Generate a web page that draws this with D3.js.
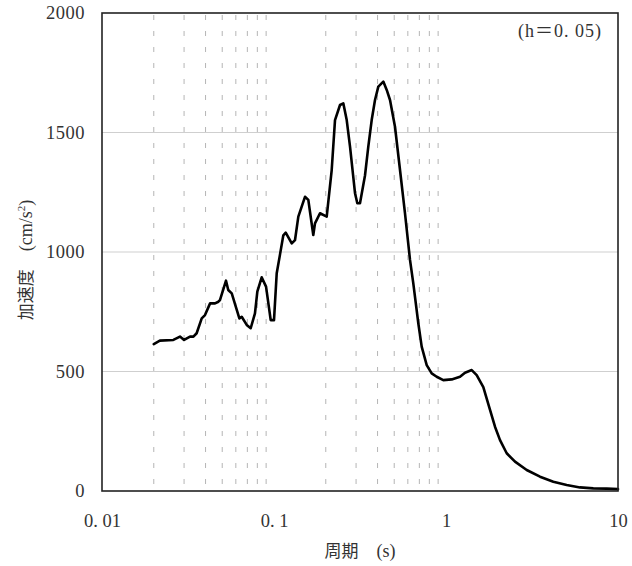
<!DOCTYPE html>
<html><head><meta charset="utf-8">
<script src="https://cdn.jsdelivr.net/npm/d3@7"></script>
<style>
body{margin:0;background:#fff}
text{fill:#333}
</style></head>
<body><svg id="c" width="632" height="566"></svg>
<script>
const periods = [0.020,0.0217,0.026,0.0284,0.030,0.0325,0.034,0.0355,0.038,0.0397,0.0425,0.0454,0.0475,0.0485,0.0526,0.0542,0.0568,0.0629,0.0649,0.0694,0.0732,0.0775,0.080,0.0848,0.0899,0.0957,0.100,0.1037,0.1084,0.1133,0.1170,0.1268,0.1325,0.1385,0.1514,0.1583,0.1692,0.1731,0.1851,0.2025,0.2165,0.2263,0.2420,0.2529,0.2647,0.2767,0.2958,0.3051,0.3162,0.3381,0.3534,0.3698,0.3866,0.4041,0.4321,0.4522,0.4726,0.5052,0.5403,0.5776,0.6176,0.6455,0.6902,0.7222,0.7724,0.8258,0.8829,0.9645,1.079,1.206,1.290,1.411,1.508,1.648,1.803,1.927,2.061,2.254,2.519,2.946,3.520,4.206,5.031,6.013,7.185,8.598,10];
const accel = [615,629,632,646,632,646,646,660,722,736,785,785,792,799,880,841,827,722,729,695,681,743,834,894,855,715,715,911,990,1070,1081,1036,1050,1148,1231,1218,1071,1120,1162,1148,1343,1552,1615,1622,1552,1441,1246,1204,1204,1320,1441,1552,1636,1692,1713,1678,1636,1524,1343,1162,967,869,702,604,527,492,478,464,467,478,495,506,485,435,339,269,213,158,123,88,60,39,25,15,11,10,8];
const yTicks = [0,500,1000,1500,2000];
const yGrid = [500,1000,1500];
const xTicks = [0.01,0.1,1,10];
const xTickLabels = ["0. 01","0. 1","1","10"];
const minorGrid = [0.02,0.03,0.04,0.05,0.06,0.07,0.08,0.09,0.2,0.3,0.4,0.5,0.6,0.7,0.8,0.9];
const dampingLabel = "(h＝0. 05)";
const xTitleCjk = "周期";
const xTitleUnit = "　(s)";
const yTitleCjk = "加速度";
const yTitleUnit = "　(cm/s";
const yTitleSup = "2";
const yTitleEnd = ")";

const L=102,R=618,T=13,B=491;
const svg = d3.select("#c");
const x = d3.scaleLog().domain([0.01,10]).range([L,R]);
const y = d3.scaleLinear().domain([0,2000]).range([B,T]);
const numFont = "'Liberation Serif','Noto Sans CJK JP',serif";
const cjkFont = "'Noto Sans CJK JP','Liberation Serif',sans-serif";

// vertical dashed grid
svg.append("g").selectAll("line").data(minorGrid).join("line")
  .attr("x1",d=>x(d)).attr("x2",d=>x(d)).attr("y1",T).attr("y2",B)
  .attr("stroke","#b5b5b5").attr("stroke-width",1).attr("stroke-dasharray","5,11")
  .attr("stroke-dashoffset",-2);
// horizontal grid
svg.append("g").selectAll("line").data(yGrid).join("line")
  .attr("x1",L).attr("x2",R).attr("y1",d=>y(d)).attr("y2",d=>y(d))
  .attr("stroke","#cfcfcf").attr("stroke-width",1.2);

// curve
const line = d3.line().x((d,i)=>x(periods[i])).y(d=>y(d));
svg.append("path").datum(accel).attr("d",line)
  .attr("fill","none").attr("stroke","#000").attr("stroke-width",2.6)
  .attr("stroke-linejoin","round").attr("stroke-linecap","round");

// frame
svg.append("rect").attr("x",L).attr("y",T).attr("width",R-L).attr("height",B-T)
  .attr("fill","none").attr("stroke","#222").attr("stroke-width",1.6);

// axes
const ya = svg.append("g").attr("transform",`translate(${L},0)`)
  .call(d3.axisLeft(y).tickValues(yTicks).tickSize(0).tickPadding(17).tickFormat(d3.format("d")));
ya.select(".domain").remove();
ya.selectAll("text").attr("font-family",numFont).attr("font-size",18.5).attr("fill","#333").style("letter-spacing","0.5px");

const xa = svg.append("g").attr("transform",`translate(0,${B})`)
  .call(d3.axisBottom(x).tickValues(xTicks).tickSize(0).tickPadding(23).tickFormat((d,i)=>xTickLabels[i]));
xa.select(".domain").remove();
xa.selectAll("text").attr("font-family",numFont).attr("font-size",18.5).attr("fill","#333");

// damping label
svg.append("text").attr("x",602).attr("y",37).attr("text-anchor","end")
  .attr("font-family",numFont).attr("font-size",18).style("letter-spacing","1px").text(dampingLabel);

// x title
const xt = svg.append("text").attr("x",360).attr("y",557).attr("text-anchor","middle").attr("font-size",17);
xt.append("tspan").attr("font-family",cjkFont).text(xTitleCjk);
xt.append("tspan").attr("font-family",numFont).attr("font-size",18).text(xTitleUnit);

// y title
const yt = svg.append("text").attr("transform","translate(32,260) rotate(-90)")
  .attr("text-anchor","middle").attr("font-size",17);
yt.append("tspan").attr("font-family",cjkFont).text(yTitleCjk);
yt.append("tspan").attr("font-family",numFont).attr("font-size",18).text(yTitleUnit);
yt.append("tspan").attr("font-family",numFont).attr("font-size",11).attr("dy",-7).text(yTitleSup);
yt.append("tspan").attr("font-family",numFont).attr("font-size",18).attr("dy",7).text(yTitleEnd);
</script>
</body></html>
